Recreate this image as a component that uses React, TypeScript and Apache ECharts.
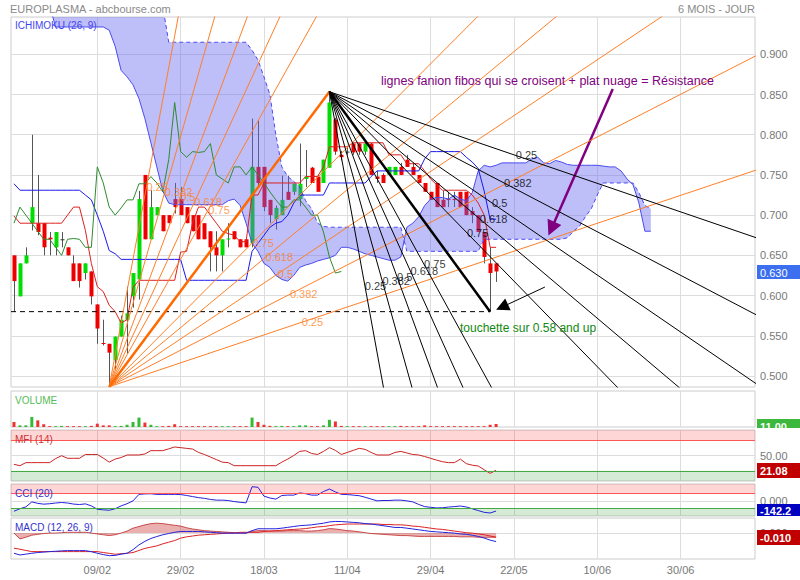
import React, { useEffect, useRef } from 'react';
import * as echarts from 'echarts';

const FONT = "'Liberation Sans', Arial, Helvetica, sans-serif";

// ---------- axes ----------
const N_CATS = 125; // trading-day slots on the x axis (data + projected cloud + empty future)
const TICK_INDEX = [14, 28, 42, 56, 70, 84, 98, 112];
const TICK_LABELS = ['09/02', '29/02', '18/03', '11/04', '29/04', '22/05', '10/06', '30/06'];
const PRICE_MIN = 0.4863;
const PRICE_MAX = 0.9464;
const PRICE_TICKS = [0.5, 0.55, 0.6, 0.65, 0.7, 0.75, 0.8, 0.85, 0.9];

// ---------- candles (index 0 = 20/01) ----------
const OPEN = [0.650, 0.599, 0.640, 0.690, 0.690, 0.690, 0.672, 0.660, 0.670, 0.660,
  0.640, 0.640, 0.628, 0.630, 0.589, 0.541, 0.540, 0.520, 0.549, 0.570,
  0.599, 0.620, 0.750, 0.670, 0.700, 0.700, 0.700, 0.720, 0.720, 0.710,
  0.700, 0.700, 0.690, 0.680, 0.660, 0.650, 0.670, 0.680, 0.670, 0.670,
  0.665, 0.760, 0.760, 0.719, 0.695, 0.700, 0.729, 0.729, 0.720, 0.745,
  0.759, 0.748, 0.740, 0.759, 0.819, 0.775, 0.779, 0.789, 0.789, 0.779,
  0.789, 0.748, 0.750, 0.750, 0.750, 0.760, 0.769, 0.760, 0.750, 0.740,
  0.729, 0.740, 0.719, 0.720, 0.720, 0.729, 0.729, 0.705, 0.700, 0.679,
  0.640, 0.640];
const HIGH = [0.650, 0.640, 0.660, 0.800, 0.750, 0.690, 0.679, 0.679, 0.679, 0.660,
  0.650, 0.640, 0.640, 0.630, 0.589, 0.570, 0.540, 0.549, 0.575, 0.611,
  0.628, 0.730, 0.750, 0.731, 0.710, 0.700, 0.700, 0.740, 0.735, 0.710,
  0.700, 0.700, 0.690, 0.680, 0.680, 0.670, 0.690, 0.680, 0.670, 0.670,
  0.820, 0.818, 0.760, 0.719, 0.712, 0.749, 0.749, 0.739, 0.789, 0.781,
  0.760, 0.750, 0.769, 0.8535, 0.821, 0.780, 0.785, 0.790, 0.790, 0.790,
  0.790, 0.755, 0.752, 0.760, 0.760, 0.765, 0.775, 0.765, 0.750, 0.740,
  0.729, 0.740, 0.730, 0.729, 0.729, 0.729, 0.729, 0.710, 0.700, 0.679,
  0.660, 0.640];
const LOW = [0.580, 0.599, 0.640, 0.681, 0.675, 0.650, 0.650, 0.650, 0.660, 0.650,
  0.618, 0.610, 0.620, 0.589, 0.540, 0.538, 0.4866, 0.509, 0.549, 0.528,
  0.585, 0.595, 0.670, 0.670, 0.700, 0.680, 0.690, 0.702, 0.700, 0.690,
  0.680, 0.670, 0.670, 0.630, 0.630, 0.630, 0.660, 0.670, 0.660, 0.660,
  0.660, 0.735, 0.705, 0.690, 0.682, 0.700, 0.719, 0.725, 0.711, 0.735,
  0.740, 0.729, 0.740, 0.759, 0.775, 0.768, 0.775, 0.775, 0.775, 0.775,
  0.750, 0.740, 0.740, 0.750, 0.750, 0.750, 0.760, 0.750, 0.740, 0.729,
  0.719, 0.710, 0.710, 0.710, 0.710, 0.710, 0.700, 0.690, 0.679, 0.640,
  0.580, 0.617];
const CLOSE = [0.618, 0.640, 0.650, 0.710, 0.679, 0.660, 0.670, 0.679, 0.670, 0.650,
  0.618, 0.618, 0.640, 0.599, 0.559, 0.540, 0.529, 0.549, 0.570, 0.578,
  0.628, 0.720, 0.670, 0.710, 0.710, 0.680, 0.690, 0.710, 0.700, 0.690,
  0.680, 0.670, 0.670, 0.660, 0.650, 0.670, 0.671, 0.670, 0.660, 0.660,
  0.760, 0.740, 0.710, 0.700, 0.709, 0.719, 0.719, 0.739, 0.739, 0.748,
  0.740, 0.729, 0.769, 0.840, 0.779, 0.772, 0.779, 0.778, 0.779, 0.789,
  0.750, 0.745, 0.740, 0.760, 0.760, 0.750, 0.760, 0.750, 0.740, 0.729,
  0.719, 0.710, 0.710, 0.719, 0.719, 0.710, 0.700, 0.700, 0.679, 0.648,
  0.628, 0.630];
const VOLUME = [18, 6, 6, 36, 24, 10, 3, 3, 4, 3,
  3, 3, 3, 4, 12, 6, 6, 3, 4, 8,
  18, 34, 16, 8, 3, 3, 4, 10, 3, 3,
  3, 3, 3, 3, 3, 3, 3, 3, 3, 3,
  34, 18, 8, 4, 3, 4, 3, 3, 6, 6,
  3, 3, 6, 26, 20, 4, 3, 3, 3, 3,
  3, 3, 3, 3, 3, 4, 3, 3, 3, 6,
  3, 3, 3, 3, 3, 3, 3, 3, 3, 3,
  8, 11];

// ---------- Ichimoku (26, 9) ----------
const TENKAN = [0.699, 0.690, 0.690, 0.690, 0.690, 0.690, 0.690, 0.690, 0.690, 0.700,
  0.710, 0.710, 0.681, 0.640, 0.611, 0.605, 0.588, 0.580, 0.566, 0.570,
  0.610, 0.619, 0.619, 0.619, 0.619, 0.619, 0.619, 0.619, 0.654, 0.655,
  0.690, 0.710, 0.710, 0.700, 0.690, 0.680, 0.677, 0.675, 0.667, 0.667,
  0.725, 0.725, 0.740, 0.740, 0.740, 0.740, 0.740, 0.740, 0.740, 0.748,
  0.748, 0.748, 0.760, 0.785, 0.785, 0.785, 0.785, 0.790, 0.790, 0.790,
  0.790, 0.790, 0.790, 0.775, 0.775, 0.775, 0.764, 0.764, 0.764, 0.755,
  0.745, 0.738, 0.731, 0.731, 0.731, 0.731, 0.731, 0.725, 0.715, 0.700,
  0.660, 0.660];
const KIJUN = [0.739, 0.731, 0.731, 0.731, 0.731, 0.731, 0.731, 0.731, 0.731, 0.731,
  0.731, 0.731, 0.725, 0.719, 0.700, 0.680, 0.656, 0.652, 0.645, 0.645,
  0.645, 0.645, 0.645, 0.645, 0.645, 0.645, 0.645, 0.645, 0.645, 0.619,
  0.619, 0.619, 0.619, 0.619, 0.619, 0.619, 0.619, 0.619, 0.619, 0.619,
  0.655, 0.665, 0.675, 0.685, 0.690, 0.692, 0.700, 0.715, 0.725, 0.725,
  0.725, 0.725, 0.725, 0.740, 0.740, 0.740, 0.740, 0.740, 0.740, 0.740,
  0.748, 0.755, 0.755, 0.755, 0.755, 0.755, 0.755, 0.755, 0.755, 0.770,
  0.779, 0.779, 0.779, 0.779, 0.779, 0.779, 0.772, 0.766, 0.758, 0.730,
  0.695, 0.695];
const SPAN_A = [0.960, 0.960, 0.960, 0.960, 0.960, 0.960, 0.960, 0.934, 0.934, 0.934,
  0.934, 0.934, 0.934, 0.934, 0.934, 0.934, 0.930, 0.910, 0.880, 0.872,
  0.862, 0.845, 0.820, 0.790, 0.760, 0.730, 0.715, 0.713, 0.713, 0.713,
  0.713, 0.713, 0.713, 0.713, 0.713, 0.713, 0.718, 0.720, 0.712, 0.690,
  0.665, 0.655, 0.640, 0.635, 0.625, 0.620, 0.618, 0.625, 0.635, 0.638,
  0.640, 0.643, 0.645, 0.647, 0.650, 0.660, 0.660, 0.658, 0.655, 0.652,
  0.650, 0.648, 0.646, 0.644, 0.644, 0.648, 0.685, 0.690, 0.698, 0.712,
  0.720, 0.722, 0.722, 0.720, 0.725, 0.720, 0.718, 0.728, 0.755, 0.762,
  0.760, 0.762, 0.765, 0.765, 0.765, 0.765, 0.765, 0.770, 0.772, 0.765,
  0.764, 0.768, 0.766, 0.763, 0.762, 0.762, 0.762, 0.762, 0.762, 0.761,
  0.760, 0.760, 0.755, 0.745, 0.738, 0.715, 0.680, 0.680];
const SPAN_B = [0.960, 0.960, 0.960, 0.960, 0.960, 0.960, 0.960, 0.960, 0.960, 0.960,
  0.960, 0.960, 0.960, 0.960, 0.960, 0.960, 0.960, 0.960, 0.960, 0.960,
  0.960, 0.960, 0.960, 0.960, 0.960, 0.960, 0.915, 0.915, 0.915, 0.915,
  0.915, 0.915, 0.915, 0.915, 0.915, 0.915, 0.915, 0.915, 0.915, 0.915,
  0.905, 0.893, 0.872, 0.850, 0.800, 0.760, 0.748, 0.742, 0.735, 0.718,
  0.708, 0.690, 0.686, 0.685, 0.685, 0.685, 0.685, 0.685, 0.685, 0.685,
  0.685, 0.685, 0.685, 0.685, 0.685, 0.685, 0.655, 0.655, 0.655, 0.655,
  0.655, 0.655, 0.655, 0.655, 0.655, 0.655, 0.655, 0.655, 0.655, 0.670,
  0.670, 0.670, 0.670, 0.670, 0.670, 0.670, 0.670, 0.670, 0.670, 0.670,
  0.670, 0.670, 0.670, 0.672, 0.680, 0.686, 0.698, 0.708, 0.725, 0.740,
  0.740, 0.740, 0.740, 0.740, 0.740, 0.728, 0.712, 0.708];
const CHIKOU_SHIFT = 26;

// ---------- indicators ----------
const MFI = [32.7, 30, 36, 36, 36, 36, 36, 44, 49.6, 44.5,
  44.5, 44.5, 52, 52, 52, 45, 37, 43, 46, 51,
  51, 51, 53, 59.5, 59.5, 59.5, 63, 66.7, 65.4, 64,
  62.7, 56, 52, 47, 42, 37, 36, 30, 30, 30,
  30, 30, 30, 30, 30, 37, 43, 50, 58, 59.5,
  54, 52, 58, 65.4, 60, 52, 56, 60, 64, 62,
  56, 51, 51, 51, 56, 58, 55, 52, 51, 48,
  44.5, 41, 37.8, 36, 36, 43, 34, 31, 29.4, 22,
  15, 21.08];
const CCI = [-145, -110, -84, -14, -35, -46, -40, -30, -23, -30,
  -45, -51, -42, -70, -117, -125, -131, -110, -70, -40,
  0, 90, 97, 99, 90, 90, 90, 90, 88, 75,
  60, 45, 35, 20, 10, 10, 5, -10, -20, -28,
  197, 189, 66, 40, 24, 75, 80, 80, 110, 100,
  80, 80, 130, 165, 125, 90, 88, 80, 72, 50,
  25, 0, 5, 5, 10, 10, 0, -14, -50, -80,
  -90, -98, -96, -86, -80, -72, -85, -110, -135, -160,
  -169, -142.2];
const MACD = [-0.0488, -0.053, -0.051, -0.0488, -0.047, -0.046, -0.0448, -0.044, -0.043, -0.0424,
  -0.0424, -0.0424, -0.0424, -0.045, -0.0488, -0.052, -0.0546, -0.054, -0.051, -0.0488,
  -0.040, -0.0285, -0.020, -0.013, -0.0083, -0.004, -0.001, 0.002, 0.004, 0.004,
  0.004, 0.004, 0.003, 0.002, 0.001, 0.000, 0.000, 0.000, 0.000, 0.000,
  0.006, 0.0105, 0.0105, 0.0105, 0.0105, 0.012, 0.014, 0.016, 0.018, 0.019,
  0.020, 0.022, 0.024, 0.027, 0.0283, 0.028, 0.027, 0.026, 0.025, 0.023,
  0.022, 0.020, 0.018, 0.016, 0.0137, 0.0137, 0.012, 0.010, 0.008, 0.006,
  0.004, 0.003, 0.002, 0.001, 0.000, -0.002, -0.003, -0.005, -0.008, -0.012,
  -0.017, -0.0205];
const SIGNAL = [-0.0366, -0.039, -0.042, -0.0448, -0.0448, -0.0448, -0.0448, -0.0448, -0.0448, -0.0448,
  -0.0448, -0.0448, -0.0448, -0.0448, -0.0448, -0.047, -0.049, -0.0512, -0.050, -0.0488,
  -0.047, -0.042, -0.037, -0.034, -0.031, -0.026, -0.022, -0.018, -0.0122, -0.009,
  -0.007, -0.005, -0.004, -0.003, -0.002, -0.001, 0.000, 0.000, 0.002, 0.002,
  0.002, 0.002, 0.004, 0.005, 0.006, 0.007, 0.008, 0.009, 0.0098, 0.011,
  0.013, 0.015, 0.016, 0.018, 0.020, 0.021, 0.022, 0.022, 0.022, 0.022,
  0.022, 0.022, 0.021, 0.021, 0.020, 0.020, 0.019, 0.017, 0.016, 0.014,
  0.012, 0.010, 0.009, 0.007, 0.005, 0.003, 0.001, 0.000, -0.002, -0.004,
  -0.007, -0.0098];
const HIST = [0, -0.014, -0.010, -0.005, -0.003, -0.001, 0, 0, 0.001, 0.002,
  0.002, 0.002, 0.002, 0, -0.002, -0.004, -0.006, -0.004, 0, 0.005,
  0.012, 0.016, 0.020, 0.023, 0.024, 0.023, 0.021, 0.019, 0.017, 0.013,
  0.010, 0.008, 0.006, 0.005, 0.004, 0.003, 0.002, 0.001, 0, 0,
  0.004, 0.006, 0.006, 0.005, 0.005, 0.005, 0.006, 0.006, 0.006, 0.005,
  0.005, 0.006, 0.008, 0.011, 0.010, 0.008, 0.006, 0.005, 0.003, 0.001,
  -0.001, -0.002, -0.003, -0.004, -0.005, -0.006, -0.006, -0.007, -0.008, -0.008,
  -0.008, -0.008, -0.008, -0.008, -0.008, -0.009, -0.009, -0.009, -0.010, -0.010,
  -0.010, -0.010];

// ---------- drawings ----------
const FIB_RATIOS = [0.25, 0.382, 0.5, 0.618, 0.75];
const FAN_UP = { from: [16, 0.4866], to: [53, 0.8535] };
const FAN_DOWN = { from: [53, 0.8535], to: [80, 0.58] };
const SUPPORT = { level: 0.58, toIndex: 80 };
const ARROW_BLACK = [[89.2, 0.6106], [82.0, 0.5857]];
const ARROW_PURPLE = [[100.6, 0.8568], [90.3, 0.6831]];
const LAST_VALUES = { price: '0.630', volume: '11.00', mfi: '21.08', cci: '-142.2', macd: '-0.010' };

// panel geometry
const GL = 11;
const GW = 744;
const PANELS = [
  { top: 17, height: 370 },
  { top: 391, height: 36 },
  { top: 430, height: 51 },
  { top: 484, height: 32 },
  { top: 518, height: 41 },
];

const ORANGE = '#ff7f27';
const ORANGE_THICK = '#ff6a00';

function fan(from: number[], to: number[], color: string, thick: string, labelDist: number, z: number) {
  const [x0, y0] = from;
  const [x1, y1] = to;
  const pxI = GW / N_CATS;
  const pxP = PANELS[0].height / (PRICE_MAX - PRICE_MIN);
  const through = [
    ...FIB_RATIOS.map((r) => [x0 + r * (x1 - x0), y1]),
    ...FIB_RATIOS.map((r) => [x1, y0 + r * (y1 - y0)]),
  ];
  const out: any[] = through.map((p) => ({
    type: 'line', xAxisIndex: 0, yAxisIndex: 0, z, silent: true, symbol: 'none', clip: true,
    lineStyle: { color, width: 1 },
    data: [[x0, y0], [x0 + 40 * (p[0] - x0), y0 + 40 * (p[1] - y0)]],
  }));
  out.push({
    type: 'line', xAxisIndex: 0, yAxisIndex: 0, z, silent: true, symbol: 'none', clip: true,
    lineStyle: { color: thick, width: 2.5 },
    data: [[x0, y0], [x1, y1]],
  });
  const labels = through.map((p, k) => {
    const len = Math.hypot((p[0] - x0) * pxI, (p[1] - y0) * pxP);
    const t = labelDist / len;
    return { value: [x0 + t * (p[0] - x0), y0 + t * (p[1] - y0)], name: String(FIB_RATIOS[k % 5]) };
  });
  out.push({
    type: 'scatter', xAxisIndex: 0, yAxisIndex: 0, z: z + 1, silent: true,
    symbol: 'circle', symbolSize: 0, itemStyle: { color: 'transparent' },
    label: { show: true, position: 'right', distance: 0, formatter: '{b}', color, fontSize: 11, fontFamily: FONT },
    data: labels,
  });
  return out;
}

function txt(x: number, y: number, text: string, fill: string, size: number, align = 'left', weight = 'normal') {
  return {
    type: 'text', x, y, z: 100, silent: true,
    style: { text, fill, font: `${weight} ${size}px ${FONT}`, align, verticalAlign: 'middle' },
  };
}

function box(top: number, h: number, fill: string, text: string, weight = 'bold') {
  return [
    { type: 'rect', z: 100, silent: true, shape: { x: 757, y: top, width: 43, height: h }, style: { fill } },
    txt(760, top + h / 2 + 0.5, text, '#ffffff', 11, 'left', weight),
  ];
}

function buildOption() {
  const idx = (arr: number[]) => arr.map((v, i) => [i, v]);
  const series: any[] = [];

  // candlesticks
  series.push({
    type: 'custom', xAxisIndex: 0, yAxisIndex: 0, z: 2, clip: true, silent: true,
    data: OPEN.map((o, i) => [i, o, CLOSE[i], LOW[i], HIGH[i]]),
    encode: { x: 0, y: [1, 2, 3, 4] },
    renderItem: (_p: any, api: any) => {
      const x = api.value(0);
      const o = api.value(1);
      const c = api.value(2);
      const l = api.value(3);
      const h = api.value(4);
      const hi = api.coord([x, h]);
      const lo = api.coord([x, l]);
      const top = api.coord([x, Math.max(o, c)]);
      const bot = api.coord([x, Math.min(o, c)]);
      const cx = Math.round(hi[0]) + 0.5;
      const color = c > o ? '#00dd00' : c < o ? '#ee0000' : '#333333';
      return {
        type: 'group',
        children: [
          { type: 'line', shape: { x1: cx, y1: hi[1], x2: cx, y2: lo[1] }, style: { stroke: '#555555', lineWidth: 1 } },
          { type: 'rect', shape: { x: cx - 2, y: top[1], width: 4, height: Math.max(1, bot[1] - top[1]) }, style: { fill: color } },
        ],
      };
    },
  });

  // cloud fill: one polygon, span A forward then span B backward
  series.push({
    type: 'custom', xAxisIndex: 0, yAxisIndex: 0, z: 3, clip: true, silent: true,
    data: [[0, SPAN_A[0]]],
    encode: { x: 0, y: 1 },
    renderItem: (params: any, api: any) => {
      if (params.dataIndex !== 0) return null;
      const pts: number[][] = [];
      SPAN_A.forEach((a, i) => pts.push(api.coord([i, a])));
      for (let i = SPAN_B.length - 1; i >= 0; i--) pts.push(api.coord([i, SPAN_B[i]]));
      return { type: 'polygon', shape: { points: pts }, style: { fill: 'rgba(100,100,240,0.42)', stroke: 'none' } };
    },
  });
  series.push({ type: 'line', z: 4, silent: true, symbol: 'none', clip: true, lineStyle: { color: '#4b4bf0', width: 1 }, data: idx(SPAN_A) });
  series.push({ type: 'line', z: 4, silent: true, symbol: 'none', clip: true, lineStyle: { color: '#4b4bf0', width: 1, type: [4, 3] }, data: idx(SPAN_B) });
  series.push({ type: 'line', z: 5, silent: true, symbol: 'none', clip: true, lineStyle: { color: '#dd2020', width: 1 }, data: idx(TENKAN) });
  series.push({ type: 'line', z: 5, silent: true, symbol: 'none', clip: true, lineStyle: { color: '#1a1aee', width: 1 }, data: idx(KIJUN) });
  series.push({ type: 'line', z: 5, silent: true, symbol: 'none', clip: true, lineStyle: { color: '#2e8b2e', width: 1 }, data: idx(CLOSE.slice(CHIKOU_SHIFT)) });

  // support line
  series.push({
    type: 'line', z: 6, silent: true, symbol: 'none', clip: true,
    lineStyle: { color: '#000', width: 1, type: [5, 4] },
    data: [[-0.5, SUPPORT.level], [SUPPORT.toIndex, SUPPORT.level]],
  });

  // fans
  series.push(...fan(FAN_UP.from, FAN_UP.to, ORANGE, ORANGE_THICK, 203, 6));
  series.push(...fan(FAN_DOWN.from, FAN_DOWN.to, '#000000', '#000000', 197, 6));

  // arrows
  series.push({
    type: 'line', z: 8, silent: true, data: [],
    markLine: {
      silent: true, symbol: ['none', 'triangle'], symbolSize: 13, label: { show: false },
      lineStyle: { color: '#000', width: 1, type: 'solid' },
      data: [[{ coord: ARROW_BLACK[0] }, { coord: ARROW_BLACK[1] }]],
    },
  });
  series.push({
    type: 'line', z: 8, silent: true, data: [],
    markLine: {
      silent: true, symbol: ['none', 'triangle'], symbolSize: 15, label: { show: false },
      lineStyle: { color: '#800080', width: 2.5, type: 'solid' },
      data: [[{ coord: ARROW_PURPLE[0] }, { coord: ARROW_PURPLE[1] }]],
    },
  });

  // volume
  series.push({
    type: 'bar', xAxisIndex: 1, yAxisIndex: 1, barWidth: 3, silent: true,
    data: VOLUME.map((v, i) => ({ value: [i, v], itemStyle: { color: CLOSE[i] >= OPEN[i] ? '#33bb33' : '#ee3333' } })),
  });

  // MFI
  series.push({
    type: 'line', xAxisIndex: 2, yAxisIndex: 2, z: 4, silent: true, symbol: 'none',
    lineStyle: { color: '#cc2222', width: 1 }, data: idx(MFI),
    markArea: {
      silent: true,
      data: [
        [{ yAxis: 80, itemStyle: { color: 'rgba(255,0,0,0.16)' } }, { yAxis: 100 }],
        [{ yAxis: 0, itemStyle: { color: 'rgba(0,130,0,0.16)' } }, { yAxis: 20 }],
      ],
    },
    markLine: {
      silent: true, symbol: 'none', label: { show: false },
      data: [
        { yAxis: 80, lineStyle: { color: '#ff5555', width: 1, type: 'solid' } },
        { yAxis: 20, lineStyle: { color: '#44aa44', width: 1, type: 'solid' } },
      ],
    },
  });

  // CCI
  series.push({
    type: 'line', xAxisIndex: 3, yAxisIndex: 3, z: 4, silent: true, symbol: 'none',
    lineStyle: { color: '#2222dd', width: 1 }, data: idx(CCI),
    markArea: {
      silent: true,
      data: [
        [{ yAxis: 100, itemStyle: { color: 'rgba(255,0,0,0.16)' } }, { yAxis: 235 }],
        [{ yAxis: -211, itemStyle: { color: 'rgba(0,130,0,0.16)' } }, { yAxis: -100 }],
      ],
    },
    markLine: {
      silent: true, symbol: 'none', label: { show: false },
      data: [
        { yAxis: 100, lineStyle: { color: '#ff5555', width: 1, type: 'solid' } },
        { yAxis: -100, lineStyle: { color: '#44aa44', width: 1, type: 'solid' } },
      ],
    },
  });

  // MACD
  series.push({
    type: 'line', xAxisIndex: 4, yAxisIndex: 4, z: 3, silent: true, symbol: 'none',
    lineStyle: { color: 'rgba(190,40,40,0.8)', width: 1 }, areaStyle: { color: 'rgba(200,50,50,0.55)' },
    data: idx(HIST),
  });
  series.push({ type: 'line', xAxisIndex: 4, yAxisIndex: 4, z: 4, silent: true, symbol: 'none', lineStyle: { color: '#dd2222', width: 1 }, data: idx(SIGNAL) });
  series.push({ type: 'line', xAxisIndex: 4, yAxisIndex: 4, z: 4, silent: true, symbol: 'none', lineStyle: { color: '#2222dd', width: 1 }, data: idx(MACD) });

  const xAxis = PANELS.map((_, k) => ({
    type: 'value', gridIndex: k, min: -0.5, max: N_CATS - 0.5,
    axisLine: { show: false },
    axisTick: { show: false, customValues: TICK_INDEX },
    splitLine: { show: true, lineStyle: { color: '#dddddd', width: 1 } },
    axisLabel: k === 4
      ? { show: true, customValues: TICK_INDEX, formatter: (v: number) => TICK_LABELS[TICK_INDEX.indexOf(Math.round(v))] ?? '', color: '#777', fontSize: 11, fontFamily: FONT, margin: 5 }
      : { show: false },
  }));

  const yCommon = (k: number, min: number, max: number, ticks: number[], fmt: (v: number) => string, showLabel = true) => ({
    type: 'value', gridIndex: k, position: 'right', min, max,
    axisLine: { show: false },
    axisTick: { show: false, customValues: ticks },
    splitLine: { show: ticks.length > 0, lineStyle: { color: '#dddddd', width: 1 } },
    axisLabel: { show: showLabel, customValues: ticks, formatter: fmt, color: '#777', fontSize: 11, fontFamily: FONT, margin: 5 },
  });

  const yAxis = [
    yCommon(0, PRICE_MIN, PRICE_MAX, PRICE_TICKS, (v) => v.toFixed(3)),
    yCommon(1, 0, 130, [], () => '', false),
    yCommon(2, 0, 100, [50], (v) => v.toFixed(2)),
    yCommon(3, -211, 235, [0], (v) => v.toFixed(3)),
    yCommon(4, -0.0627, 0.0366, [0], (v) => Math.abs(v).toFixed(3)),
  ];

  const graphic: any[] = [
    txt(10, 9, 'EUROPLASMA - abcbourse.com', '#8a8a8a', 11),
    txt(755, 9, '6 MOIS - JOUR', '#8a8a8a', 11, 'right'),
    txt(15, 25, 'ICHIMOKU (26, 9)', '#4444ee', 10),
    txt(381, 81, 'lignes fanion fibos qui se croisent + plat nuage = Résistance', '#800080', 12.5),
    txt(460, 328, 'touchette sur 0.58 and up', '#118811', 12),
    txt(15, 400, 'VOLUME', '#55bb55', 10),
    txt(15, 439, 'MFI (14)', '#cc3333', 10),
    txt(15, 493, 'CCI (20)', '#3333cc', 10),
    txt(15, 527, 'MACD (12, 26, 9)', '#3333cc', 10),
    ...box(265, 14, '#3c6ef0', LAST_VALUES.price, 'normal'),
    ...box(419, 14, '#3cb83c', LAST_VALUES.volume),
    { type: 'rect', z: 101, silent: true, shape: { x: 757, y: 428, width: 43, height: 6 }, style: { fill: '#ffffff' } },
    ...box(463, 15, '#c00000', LAST_VALUES.mfi),
    ...box(504, 12, '#0000c0', LAST_VALUES.cci),
    ...box(530, 15, '#c00000', LAST_VALUES.macd),
  ];

  return {
    animation: false,
    backgroundColor: '#ffffff',
    textStyle: { fontFamily: FONT },
    grid: PANELS.map((p) => ({ left: GL, top: p.top, width: GW, height: p.height, show: true, borderColor: '#cccccc', borderWidth: 1, backgroundColor: 'transparent' })),
    xAxis,
    yAxis,
    series,
    graphic,
  };
}

export default function App() {
  const ref = useRef<HTMLDivElement>(null);
  useEffect(() => {
    if (!ref.current) return;
    const chart = echarts.init(ref.current, null, { renderer: 'svg' });
    chart.setOption(buildOption() as any);
    return () => chart.dispose();
  }, []);
  return <div ref={ref} style={{ position: 'fixed', left: 0, top: 0, width: 800, height: 580, background: '#fff' }} />;
}
